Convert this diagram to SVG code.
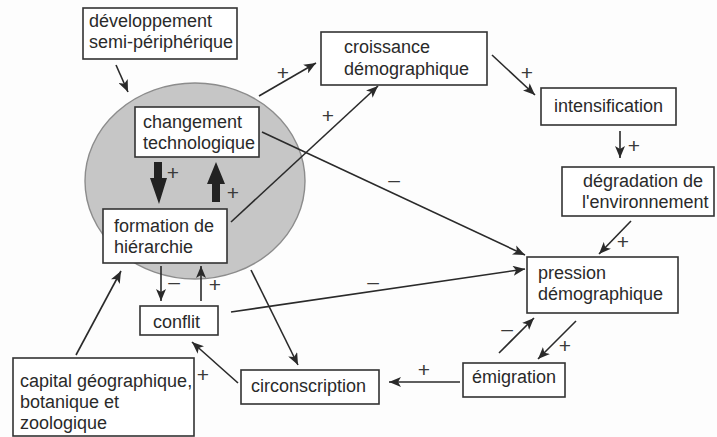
<svg xmlns="http://www.w3.org/2000/svg" width="717" height="437" viewBox="0 0 717 437">
  <style>
    .box { fill: #ffffff; stroke: #333333; stroke-width: 1.6; }
    .lbl { font-family: "Liberation Sans", Arial, sans-serif; font-size: 18px; fill: #2a2a2a; }
    .sign { font-family: "Liberation Sans", Arial, sans-serif; font-size: 21px; fill: #3a3a3a; text-anchor: middle; }
    .edge { fill: none; stroke: #2a2a2a; stroke-width: 1.6; marker-end: url(#head); }
    .thick { fill: #222222; }
  </style>
  <defs>
    <marker id="head" markerUnits="userSpaceOnUse" markerWidth="14" markerHeight="10" refX="12" refY="5" orient="auto">
      <path d="M0,0 L12,5 L0,10 L3,5 Z" fill="#2a2a2a"/>
    </marker>
  </defs>

  <rect width="717" height="437" fill="#fdfdfd"/>

  <!-- core cluster -->
  <ellipse id="core" cx="195" cy="181" rx="110" ry="98" fill="#c6c6c6" stroke="#8c8c8c" stroke-width="1.4"/>

  <g id="connectors">
    <line class="edge" x1="116" y1="65" x2="128" y2="92"/>
    <line class="edge" x1="259" y1="96" x2="316" y2="63"/>
    <line class="edge" x1="231" y1="222" x2="378" y2="86"/>
    <line class="edge" x1="492" y1="55" x2="535" y2="95"/>
    <line class="edge" x1="620" y1="131" x2="620" y2="158"/>
    <line class="edge" x1="631" y1="221" x2="599" y2="254"/>
    <line class="edge" x1="262" y1="132" x2="525" y2="255"/>
    <line class="edge" x1="231" y1="312" x2="525" y2="269"/>
    <line class="edge" x1="576" y1="321" x2="538" y2="359"/>
    <line class="edge" x1="499" y1="353" x2="534" y2="318"/>
    <line class="edge" x1="460" y1="382" x2="389" y2="382"/>
    <line class="edge" x1="251" y1="270" x2="298" y2="365"/>
    <line class="edge" x1="238" y1="383" x2="192" y2="342"/>
    <line class="edge" x1="76" y1="355" x2="121" y2="271"/>
    <line class="edge" x1="161" y1="266" x2="161" y2="301"/>
    <line class="edge" x1="201" y1="301" x2="201" y2="266"/>
    <!-- heavy arrows between technology and hierarchy -->
    <polygon class="thick" points="154,162 162,162 162,178 167,178 159,204 150,178 154,178"/>
    <polygon class="thick" points="212,202 220,202 220,184 225,184 216,162 207,184 212,184"/>
  </g>

  <g id="signs">
    <text class="sign" x="173" y="180">+</text>
    <text class="sign" x="233" y="200">+</text>
    <text class="sign" x="283" y="80">+</text>
    <text class="sign" x="328" y="123">+</text>
    <text class="sign" x="527" y="80">+</text>
    <text class="sign" x="634" y="153">+</text>
    <text class="sign" x="623" y="249">+</text>
    <text class="sign" x="394" y="187">–</text>
    <text class="sign" x="373" y="289">–</text>
    <text class="sign" x="565" y="353">+</text>
    <text class="sign" x="507" y="336">–</text>
    <text class="sign" x="424" y="377">+</text>
    <text class="sign" x="174" y="289">–</text>
    <text class="sign" x="215" y="292">+</text>
    <text class="sign" x="203" y="382">+</text>
  </g>

  <g id="developpement">
    <rect class="box" x="83" y="8" width="154" height="51"/>
    <text class="lbl" x="89" y="27">développement</text>
    <text class="lbl" x="89" y="48">semi-périphérique</text>
  </g>

  <g id="croissance">
    <rect class="box" x="321" y="32" width="166" height="53"/>
    <text class="lbl" x="344" y="53">croissance</text>
    <text class="lbl" x="344" y="75">démographique</text>
  </g>

  <g id="intensification">
    <rect class="box" x="541" y="88" width="135" height="37"/>
    <text class="lbl" x="554" y="112">intensification</text>
  </g>

  <g id="degradation">
    <rect class="box" x="562" y="167" width="152" height="49"/>
    <text class="lbl" x="583" y="187">dégradation de</text>
    <text class="lbl" x="582" y="208">l'environnement</text>
  </g>

  <g id="changement">
    <rect class="box" x="135" y="107" width="124" height="50"/>
    <text class="lbl" x="143" y="128">changement</text>
    <text class="lbl" x="143" y="149">technologique</text>
  </g>

  <g id="hierarchie">
    <rect class="box" x="103" y="209" width="124" height="54"/>
    <text class="lbl" x="114" y="232">formation de</text>
    <text class="lbl" x="114" y="253">hiérarchie</text>
  </g>

  <g id="conflit">
    <rect class="box" x="140" y="306" width="78" height="29"/>
    <text class="lbl" x="153" y="328">conflit</text>
  </g>

  <g id="capital">
    <rect class="box" x="13" y="358" width="181" height="78"/>
    <text class="lbl" x="20" y="387">capital géographique,</text>
    <text class="lbl" x="20" y="408">botanique et</text>
    <text class="lbl" x="20" y="429">zoologique</text>
  </g>

  <g id="circonscription">
    <rect class="box" x="241" y="370" width="138" height="34"/>
    <text class="lbl" x="251" y="392">circonscription</text>
  </g>

  <g id="pression">
    <rect class="box" x="527" y="257" width="151" height="56"/>
    <text class="lbl" x="538" y="279">pression</text>
    <text class="lbl" x="538" y="300">démographique</text>
  </g>

  <g id="emigration">
    <rect class="box" x="463" y="363" width="102" height="34"/>
    <text class="lbl" x="472" y="383">émigration</text>
  </g>
</svg>
